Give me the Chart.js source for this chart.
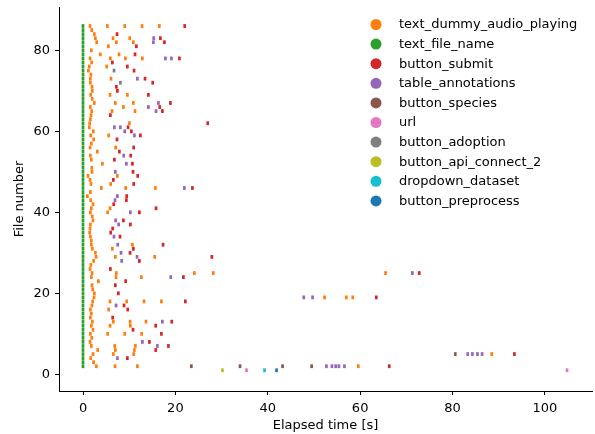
<!DOCTYPE html>
<html>
<head>
<meta charset="utf-8">
<script src="https://cdn.jsdelivr.net/npm/chart.js@4/dist/chart.umd.min.js"></script>
<style>
  html, body { margin: 0; padding: 0; background: #fff; }
  #wrap { width: 595px; height: 434px; position: relative; }
</style>
</head>
<body>
<div id="wrap"><canvas id="events"></canvas></div>
<script>
// series names, in legend order, and their tab10 colours
const seriesNames = [
  'text_dummy_audio_playing', 'text_file_name', 'button_submit', 'table_annotations',
  'button_species', 'url', 'button_adoption', 'button_api_connect_2',
  'dropdown_dataset', 'button_preprocess'
];
const seriesColors = [
  '#ff7f0e', '#2ca02c', '#d62728', '#9467bd', '#8c564b',
  '#e377c2', '#7f7f7f', '#bcbd22', '#17becf', '#1f77b4'
];

// [file number, elapsed seconds]
const audioPlaying = [
  [86, 1.52], [86, 5.27], [86, 9.03], [86, 12.78], [86, 16.53], [85, 1.9], [84, 2.45],
  [83, 2.67], [83, 6.5], [83, 10.11], [82, 2.96], [82, 7.22], [82, 10.9], [81, 5.49],
  [80, 1.8], [79, 3.75], [79, 7.8], [78, 1.52], [78, 5.92], [78, 9.17], [78, 12.85],
  [77, 1.88], [76, 1.37], [76, 5.13], [75, 1.16], [74, 1.7], [73, 1.59], [73, 6.06],
  [72, 1.59], [71, 1.95], [70, 2.02], [69, 1.66], [69, 5.85], [69, 9.6], [68, 2.0],
  [67, 2.45], [67, 7.0], [67, 10.9], [66, 1.59], [66, 8.74], [65, 1.88], [65, 6.28],
  [65, 11.26], [64, 1.73], [63, 1.6], [62, 1.44], [62, 10.04], [61, 1.37], [60, 2.24],
  [59, 1.66], [59, 5.56], [58, 2.31], [57, 1.8], [56, 1.52], [56, 7.07], [55, 3.1],
  [54, 1.59], [53, 1.8], [52, 4.19], [51, 1.9], [50, 1.95], [49, 1.08], [49, 7.44],
  [48, 1.52], [47, 1.73], [47, 5.99], [46, 3.97], [46, 9.24], [46, 15.67], [45, 1.6],
  [44, 0.94], [43, 1.66], [42, 2.16], [41, 1.8], [41, 5.85], [40, 1.59], [40, 5.34],
  [39, 2.0], [38, 2.16], [37, 1.59], [36, 1.52], [35, 1.44], [34, 1.59], [33, 1.8],
  [32, 1.8], [32, 10.69], [31, 2.02], [31, 6.35], [30, 2.67], [29, 2.82], [29, 7.0],
  [29, 15.52], [28, 2.31], [27, 1.7], [26, 1.52], [25, 1.95], [25, 7.22], [25, 24.11],
  [25, 28.2], [25, 65.5], [24, 1.8], [24, 7.15], [24, 12.63], [23, 3.32], [22, 1.95],
  [21, 2.1], [20, 2.45], [19, 2.38], [19, 52.3], [19, 57.0], [19, 58.4], [18, 2.09],
  [18, 5.85], [18, 9.46], [18, 13.21], [18, 16.97], [17, 1.95], [16, 1.59], [16, 5.56],
  [15, 1.8], [14, 1.59], [13, 2.02], [13, 6.57], [13, 10.18], [13, 13.64], [12, 1.8],
  [12, 5.85], [12, 10.25], [11, 2.16], [10, 1.59], [10, 5.34], [10, 9.03], [10, 12.7],
  [9, 1.9], [8, 1.52], [7, 1.8], [7, 6.86], [7, 11.34], [6, 3.18], [6, 7.0], [6, 11.12],
  [5, 2.16], [5, 6.57], [5, 10.97], [5, 88.5], [4, 1.66], [3, 2.3], [2, 2.89], [2, 6.93],
  [2, 11.77], [2, 59.6]
];

// every file gets its file name typed at t = 0
const fileNameFiles = [
  2, 3, 4, 5, 6, 7, 8, 9, 10, 11, 12, 13, 14, 15, 16, 17, 18, 19, 20, 21, 22, 23, 24,
  25, 26, 27, 28, 29, 30, 31, 32, 33, 34, 35, 36, 37, 38, 39, 40, 41, 42, 43, 44, 45,
  46, 47, 48, 49, 50, 51, 52, 53, 54, 55, 56, 57, 58, 59, 60, 61, 62, 63, 64, 65, 66,
  67, 68, 69, 70, 71, 72, 73, 74, 75, 76, 77, 78, 79, 80, 81, 82, 83, 84, 85, 86
];
const fileNameTime = 0;

const submit = [
  [86, 22.02], [84, 7.36], [83, 16.75], [82, 17.62], [81, 11.55], [79, 11.26], [78, 20.87],
  [77, 6.35], [76, 9.6], [75, 11.05], [73, 13.43], [72, 15.09], [71, 7.22], [70, 7.44],
  [69, 14.15], [67, 18.92], [66, 16.61], [65, 17.18], [64, 5.92], [62, 27.0], [61, 9.75],
  [60, 10.47], [59, 12.42], [58, 7.36], [56, 10.97], [55, 7.87], [54, 10.33], [53, 6.79],
  [52, 10.69], [50, 10.83], [49, 11.84], [48, 6.57], [47, 10.97], [46, 23.68], [44, 9.46],
  [43, 9.39], [42, 6.64], [41, 15.81], [40, 12.2], [38, 8.74], [37, 10.25], [36, 6.42],
  [35, 5.99], [34, 8.01], [32, 17.33], [31, 10.9], [30, 10.18], [29, 27.9], [28, 12.2],
  [26, 5.92], [25, 72.8], [24, 21.73], [23, 9.24], [22, 7.0], [20, 7.65], [19, 63.5],
  [18, 22.16], [17, 8.88], [16, 9.68], [14, 6.42], [13, 19.21], [12, 15.74], [11, 10.83],
  [10, 16.97], [8, 14.37], [7, 18.49], [6, 15.74], [5, 93.4], [4, 9.6], [2, 66.3]
];

const annotations = [
  [83, 15.31], [82, 15.24], [78, 17.84], [78, 19.14], [73, 11.77], [67, 16.32], [66, 14.15],
  [65, 15.81], [61, 6.79], [61, 8.09], [60, 9.03], [59, 11.12], [54, 8.81], [52, 9.39],
  [50, 7.0], [46, 21.95], [44, 7.44], [43, 6.93], [40, 10.25], [38, 7.07], [37, 7.72],
  [34, 6.71], [32, 7.51], [30, 8.23], [29, 11.7], [28, 8.38], [25, 71.3], [24, 19.0],
  [19, 47.8], [19, 49.7], [17, 7.15], [13, 17.18], [8, 12.85], [7, 16.1], [5, 83.3],
  [5, 84.3], [5, 85.4], [5, 86.4], [4, 7.44], [2, 52.7], [2, 53.9], [2, 54.7], [2, 55.4],
  [2, 56.6]
];

const species = [[5, 80.6], [2, 23.46], [2, 34.0], [2, 43.2], [2, 49.5]];
const urlOpened = [[1, 35.4], [1, 104.8]];
const adoption = [[75, 6.71], [72, 8.09]];
const apiConnect = [[1, 30.2]];
const datasetPick = [[1, 39.3]];
const preprocess = [[1, 41.9]];

const xTicks = [0, 20, 40, 60, 80, 100];
const yTicks = [0, 20, 40, 60, 80];

const toPts = arr => arr.map(([f, t]) => ({ x: t, y: f }));
const seriesPoints = [
  toPts(audioPlaying),
  fileNameFiles.map(f => ({ x: fileNameTime, y: f })),
  toPts(submit),
  toPts(annotations),
  toPts(species),
  toPts(urlOpened),
  toPts(adoption),
  toPts(apiConnect),
  toPts(datasetPick),
  toPts(preprocess)
];

const FONT = 'DejaVu Sans';

// matplotlib-style legend in the top right corner: dots + names, no frame
const dotLegend = {
  id: 'dotLegend',
  afterDraw(chart) {
    const ctx = chart.ctx;
    ctx.save();
    ctx.font = `13px "${FONT}"`;
    ctx.textBaseline = 'middle';
    ctx.textAlign = 'left';
    seriesNames.forEach((name, i) => {
      const y = 24.5 + i * 19.6;
      ctx.beginPath();
      ctx.arc(376, y, 5.5, 0, Math.PI * 2);
      ctx.fillStyle = seriesColors[i];
      ctx.fill();
      ctx.fillStyle = '#000';
      ctx.fillText(name, 399, y + 0.5);
    });
    ctx.restore();
  }
};

const axisStyle = {
  grid: { display: true, drawOnChartArea: false, drawTicks: true, tickLength: 4, color: '#000', lineWidth: 1 },
  border: { display: true, color: '#000', width: 1 },
  ticks: { color: '#000', font: { family: FONT, size: 13 } }
};

new Chart(document.getElementById('events'), {
  type: 'scatter',
  data: {
    datasets: seriesNames.map((name, i) => ({
      label: name,
      data: seriesPoints[i],
      // short vertical dash, like the tiny markers of the original
      pointStyle: 'line',
      rotation: 90,
      radius: 1.9,
      borderWidth: 2.7,
      borderColor: seriesColors[i],
      backgroundColor: seriesColors[i],
      hoverRadius: 1.9
    }))
  },
  options: {
    responsive: true,
    maintainAspectRatio: false,
    animation: false,
    layout: { autoPadding: false, padding: { top: 7, right: 3, left: 0, bottom: 0 } },
    scales: {
      x: {
        type: 'linear',
        min: -5.2,
        max: 110.2,
        ...axisStyle,
        ticks: { ...axisStyle.ticks, padding: 6, maxRotation: 0 },
        afterBuildTicks: s => { s.ticks = xTicks.map(v => ({ value: v })); },
        afterFit: s => { s.height = 43; s.paddingLeft = 0; s.paddingRight = 0; },
        title: { display: true, text: 'Elapsed time [s]', color: '#000', font: { family: FONT, size: 13 }, padding: { top: 0, bottom: 1 } }
      },
      y: {
        type: 'linear',
        min: -4.12,
        max: 90.7,
        ...axisStyle,
        ticks: { ...axisStyle.ticks, padding: 5 },
        afterBuildTicks: s => { s.ticks = yTicks.map(v => ({ value: v })); },
        afterFit: s => { s.width = 59; s.paddingTop = 0; s.paddingBottom = 0; },
        title: { display: true, text: 'File number', color: '#000', font: { family: FONT, size: 13 }, padding: { top: 12, bottom: 0 } }
      }
    },
    plugins: { legend: { display: false }, tooltip: { enabled: false } }
  },
  plugins: [dotLegend]
});
</script>
</body>
</html>
